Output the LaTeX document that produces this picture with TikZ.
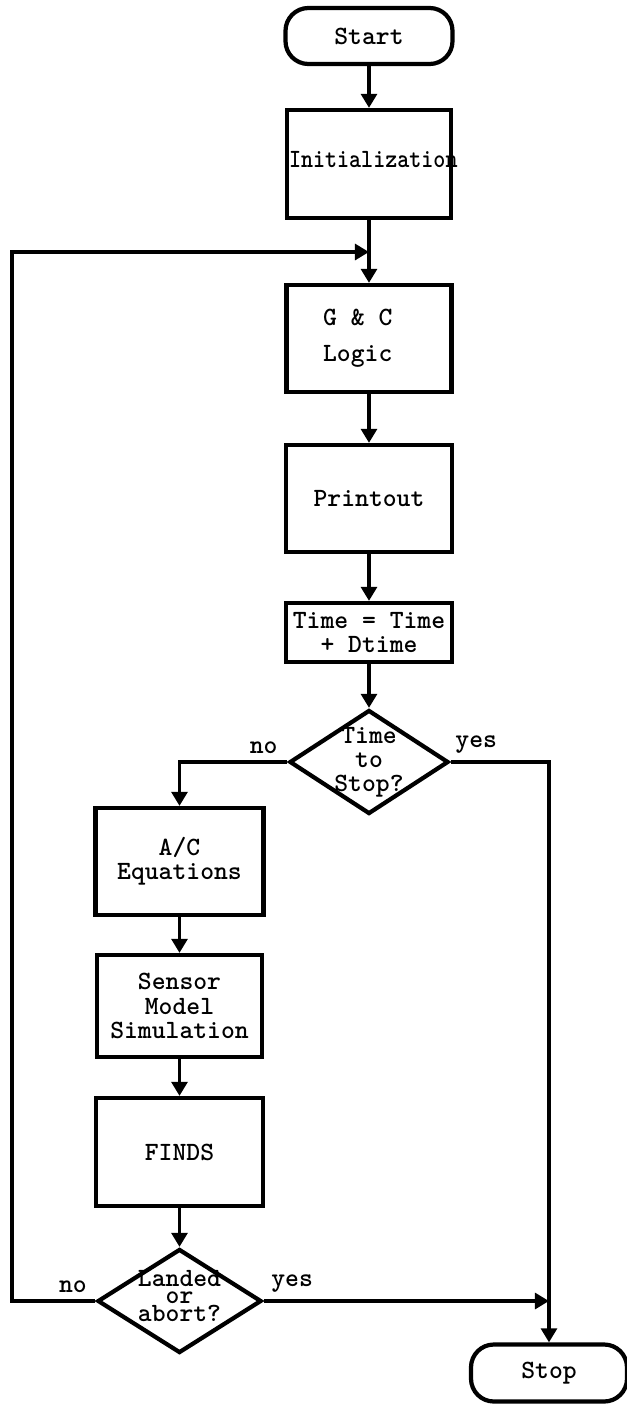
\documentclass[tikz,border=0pt]{standalone}
\usepackage{graphicx}
\usetikzlibrary{arrows.meta,shapes.geometric}
\tikzset{
    box/.style={draw, line width=2.4pt, inner sep=0pt, align=center},
    terminal/.style={box, rounded corners=13pt},
    decision/.style={diamond, draw, line width=2.4pt, inner sep=0pt},
    flow/.style={-{Triangle[length=8pt,width=9pt]}, line width=2pt},
    note/.style={inner sep=4pt},
}

\begin{document}
\begin{tikzpicture}[font=\ttfamily\bfseries\fontsize{15}{13.7}\selectfont]
    \path[use as bounding box] (0,0) rectangle (12.54,-28.08);

    \node[terminal, minimum width=3.34cm, minimum height=1.12cm] (start) at (7.38,-0.72) {Start};
    \node[box, minimum width=3.28cm, minimum height=2.16cm] (init) at (7.38,-3.28)
        {\raisebox{0.18cm}{\makebox[3.2cm][l]{\scalebox{0.87}[1]{Initialization}}}};
    \node[box, minimum width=3.30cm, minimum height=2.14cm] (logic) at (7.38,-6.77)
        {\hspace*{-0.45cm}G \& C\\[6.8pt]\hspace*{-0.45cm}Logic};
    \node[box, minimum width=3.32cm, minimum height=2.14cm] (printout) at (7.38,-9.97) {Printout};
    \node[box, minimum width=3.32cm, minimum height=1.18cm] (clock) at (7.38,-12.65)
        {Time = Time\\[0pt]+ Dtime};
    \node[decision, minimum width=3.18cm, minimum height=2.08cm,
          label={[align=center]center:Time\\to\\Stop?}] (timecheck) at (7.38,-15.24) {};

    \node[box, minimum width=3.36cm, minimum height=2.14cm] (equations) at (3.59,-17.23)
        {A/C\\Equations};
    \node[box, minimum width=3.30cm, minimum height=2.04cm] (sensor) at (3.59,-20.12)
        {Sensor\\Model\\Simulation};
    \node[box, minimum width=3.34cm, minimum height=2.16cm] (finds) at (3.59,-23.04) {FINDS};
    \node[decision, minimum width=3.28cm, minimum height=2.08cm,
          label={[align=center, yshift=0.1cm]center:Landed\\[-4pt]or\\[-3pt]abort?}] (landed) at (3.59,-26.02) {};

    \node[terminal, minimum width=3.12cm, minimum height=1.14cm] (stop) at (10.98,-27.46) {Stop};

    \coordinate (join) at (7.38,-5.04);
    \coordinate (leftrail) at (0.24,-5.04);

    \draw[flow] (start) -- (init);
    \draw[flow] (init) -- (logic);
    \draw[flow] (logic) -- (printout);
    \draw[flow] (printout) -- (clock);
    \draw[flow] (clock) -- (timecheck);
    \draw[flow] (timecheck.west) -| node[note, above, pos=0.11] {no} (equations.north);
    \draw[flow] (timecheck.east) -| node[note, above, pos=0.13] {yes} (stop.north);
    \draw[flow] (equations) -- (sensor);
    \draw[flow] (sensor) -- (finds);
    \draw[flow] (finds) -- (landed);
    \draw[flow] (landed.east) -- node[note, above, pos=0.1] {yes} (landed.east -| stop.north);
    \draw[flow] (landed.west) -- node[note, above, pos=0.27] {no} (landed.west -| leftrail)
        -- (leftrail) -- (join);
\end{tikzpicture}
\end{document}
